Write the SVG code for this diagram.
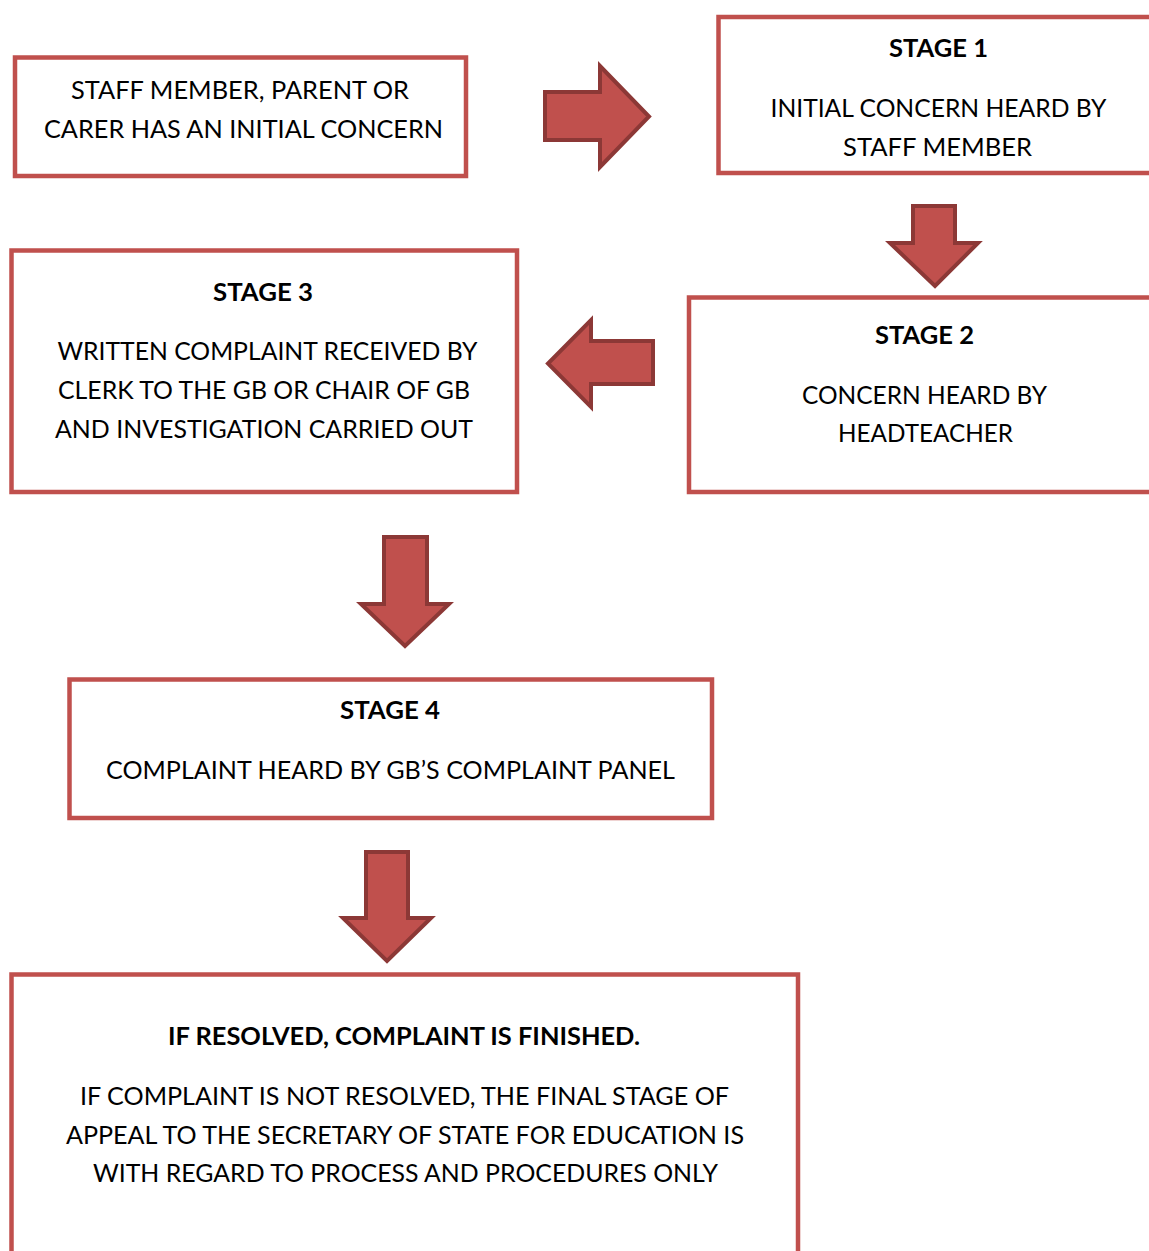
<svg xmlns="http://www.w3.org/2000/svg" width="1149" height="1251" viewBox="0 0 1149 1251">
<style>
.box{fill:#ffffff;stroke:#c0504d;stroke-width:4.5}
.arr{fill:#c0504d;stroke:#8c3836;stroke-width:4;stroke-linejoin:miter}
text{font-family:Lato,"Open Sans","Liberation Sans",sans-serif;font-size:25px;fill:#000;text-anchor:middle}
.b{font-weight:bold}
</style>
<rect width="1149" height="1251" fill="#ffffff"/>
<g id="connectors">
<path class="arr" d="M545,92 H600 V66 L649,116.5 L600,167 V140 H545 Z"/>
<path class="arr" d="M913,206 H955 V243 H978 L935,286 L890,243 H913 Z"/>
<path class="arr" d="M653,341 H591 V320 L548,363.5 L591,407 V384 H653 Z"/>
<path class="arr" d="M384,537 H427 V604 H449 L405,646 L361,604 H384 Z"/>
<path class="arr" d="M366,852 H408 V918 H431 L387,961 L343,918 H366 Z"/>
</g>
<g id="node-start">
<rect class="box" x="15" y="57.5" width="451" height="118.5"/>
<text x="240" y="99" textLength="338" lengthAdjust="spacingAndGlyphs">STAFF MEMBER, PARENT OR</text>
<text x="243.5" y="138" textLength="399" lengthAdjust="spacingAndGlyphs">CARER HAS AN INITIAL CONCERN</text>
</g>
<g id="node-stage1">
<rect class="box" x="718.5" y="17" width="460" height="156"/>
<text class="b" x="938.5" y="57" textLength="99" lengthAdjust="spacingAndGlyphs">STAGE 1</text>
<text x="938.5" y="117" textLength="336" lengthAdjust="spacingAndGlyphs">INITIAL CONCERN HEARD BY</text>
<text x="937.5" y="156" textLength="189" lengthAdjust="spacingAndGlyphs">STAFF MEMBER</text>
</g>
<g id="node-stage2">
<rect class="box" x="689" y="297.5" width="490" height="194.5"/>
<text class="b" x="924.5" y="344" textLength="99" lengthAdjust="spacingAndGlyphs">STAGE 2</text>
<text x="924.5" y="404" textLength="245" lengthAdjust="spacingAndGlyphs">CONCERN HEARD BY</text>
<text x="925.5" y="442" textLength="175" lengthAdjust="spacingAndGlyphs">HEADTEACHER</text>
</g>
<g id="node-stage3">
<rect class="box" x="11.5" y="250.5" width="505.5" height="241.5"/>
<text class="b" x="263" y="301" textLength="100" lengthAdjust="spacingAndGlyphs">STAGE 3</text>
<text x="267.5" y="360" textLength="420" lengthAdjust="spacingAndGlyphs">WRITTEN COMPLAINT RECEIVED BY</text>
<text x="264" y="399" textLength="412" lengthAdjust="spacingAndGlyphs">CLERK TO THE GB OR CHAIR OF GB</text>
<text x="264" y="438" textLength="418" lengthAdjust="spacingAndGlyphs">AND INVESTIGATION CARRIED OUT</text>
</g>
<g id="node-stage4">
<rect class="box" x="69.5" y="679.5" width="642.5" height="138.5"/>
<text class="b" x="390" y="719" textLength="100" lengthAdjust="spacingAndGlyphs">STAGE 4</text>
<text x="390.5" y="779" textLength="569" lengthAdjust="spacingAndGlyphs">COMPLAINT HEARD BY GB’S COMPLAINT PANEL</text>
</g>
<g id="node-final">
<rect class="box" x="11.5" y="974.5" width="786.5" height="300"/>
<text class="b" x="404" y="1045" textLength="472" lengthAdjust="spacingAndGlyphs">IF RESOLVED, COMPLAINT IS FINISHED.</text>
<text x="404.5" y="1105" textLength="649" lengthAdjust="spacingAndGlyphs">IF COMPLAINT IS NOT RESOLVED, THE FINAL STAGE OF</text>
<text x="405" y="1144" textLength="678" lengthAdjust="spacingAndGlyphs">APPEAL TO THE SECRETARY OF STATE FOR EDUCATION IS</text>
<text x="405.5" y="1182" textLength="625" lengthAdjust="spacingAndGlyphs">WITH REGARD TO PROCESS AND PROCEDURES ONLY</text>
</g>
</svg>
